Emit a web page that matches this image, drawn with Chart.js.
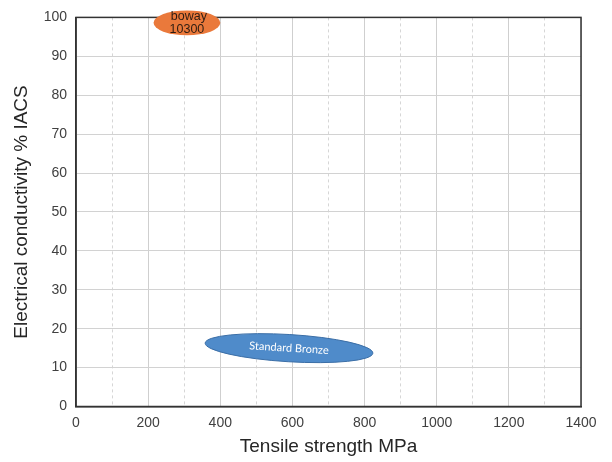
<!DOCTYPE html>
<html>
<head>
<meta charset="utf-8">
<script src="https://cdn.jsdelivr.net/npm/chart.js@4.4.0/dist/chart.umd.min.js"></script>
<style>
  html, body { margin: 0; background: #fff; }
  #wrap { width: 612px; height: 462px; }
</style>
</head>
<body>
<div id="wrap"><canvas id="chart"></canvas></div>
<script>
// material regions (MPa, % IACS)
const regionNames = [["boway", "10300"], ["Standard Bronze"]];
const strengthFrom = [215, 358];
const strengthTo = [400, 823];
const conductivityFrom = [98.6, 16.3];
const conductivityTo = [98.6, 13.7];
const conductivitySpread = [3.2, 3.5];

const strengthTicks = [0, 200, 400, 600, 800, 1000, 1200, 1400];
const conductivityTicks = [0, 10, 20, 30, 40, 50, 60, 70, 80, 90, 100];

const regionStyles = [
  { fill: "#ea793b", stroke: null, text: "#2e1d12", font: "12.5px 'Liberation Sans', Arial", lineGap: 13, dx: 2 },
  { fill: "#4f8bca", stroke: "#3b6ea6", text: "#ffffff", font: "11px Lato, 'Liberation Sans'", lineGap: 12, dx: 0 }
];

const regionPlugin = {
  id: "regions",
  afterDraw(chart) {
    const { ctx, chartArea: a, scales: { x, y } } = chart;
    ctx.save();
    // box round the plot
    ctx.strokeStyle = "#333";
    ctx.lineWidth = 1.5;
    ctx.strokeRect(a.left, a.top, a.right - a.left, a.bottom - a.top);

    regionNames.forEach((lines, i) => {
      const st = regionStyles[i];
      const x1 = x.getPixelForValue(strengthFrom[i]), x2 = x.getPixelForValue(strengthTo[i]);
      const y1 = y.getPixelForValue(conductivityFrom[i]), y2 = y.getPixelForValue(conductivityTo[i]);
      const cx = (x1 + x2) / 2, cy = (y1 + y2) / 2;
      const rx = Math.hypot(x2 - x1, y2 - y1) / 2;
      const ry = Math.abs(y.getPixelForValue(0) - y.getPixelForValue(conductivitySpread[i]));
      const rot = Math.atan2(y2 - y1, x2 - x1);

      ctx.beginPath();
      ctx.ellipse(cx, cy, rx, ry, rot, 0, Math.PI * 2);
      ctx.fillStyle = st.fill;
      ctx.fill();
      if (st.stroke) {
        ctx.strokeStyle = st.stroke;
        ctx.lineWidth = 1;
        ctx.stroke();
      }

      ctx.save();
      ctx.translate(cx, cy);
      ctx.rotate(rot);
      ctx.fillStyle = st.text;
      ctx.font = st.font;
      ctx.textAlign = "center";
      ctx.textBaseline = "middle";
      const off = (lines.length - 1) * st.lineGap / 2;
      lines.forEach((t, j) => ctx.fillText(t, j === 0 ? st.dx : 0, j * st.lineGap - off));
      ctx.restore();
    });
    ctx.restore();
  }
};

new Chart(document.getElementById("chart"), {
  type: "scatter",
  data: { datasets: [] },
  options: {
    responsive: true,
    maintainAspectRatio: false,
    animation: false,
    layout: { padding: { top: 17, right: 31, left: 0, bottom: 0 } },
    plugins: { legend: { display: false }, tooltip: { enabled: false } },
    scales: {
      x: {
        type: "linear",
        min: 0,
        max: 1400,
        afterFit: s => { s.height = 55.5; },
        afterBuildTicks: s => {
          const t = [];
          for (let v = 0; v <= 1400; v += 100) t.push({ value: v });
          s.ticks = t;
        },
        ticks: {
          autoSkip: false,
          maxRotation: 0,
          padding: 8,
          color: "#404040",
          font: { family: "'Liberation Sans', Arial", size: 14 },
          callback: v => strengthTicks.includes(v) ? String(v) : ""
        },
        grid: {
          drawTicks: false,
          color: ctx => (ctx.tick && ctx.tick.value % 200 !== 0) ? "#d6d6d6" : "#cfcfcf",
          lineWidth: 1
        },
        border: {
          color: "#333",
          width: 1.5,
          dash: ctx => (ctx.tick && ctx.tick.value % 200 !== 0) ? [3, 3] : []
        },
        title: {
          display: true,
          text: "Tensile strength MPa",
          color: "#262626",
          font: { family: "'Liberation Sans', Arial", size: 19 },
          padding: { top: 4, bottom: 4 }
        }
      },
      y: {
        type: "linear",
        min: 0,
        max: 100,
        afterFit: s => { s.width = 76; },
        afterBuildTicks: s => { s.ticks = conductivityTicks.map(v => ({ value: v })); },
        ticks: {
          padding: 9,
          color: "#404040",
          font: { family: "'Liberation Sans', Arial", size: 14 }
        },
        grid: { drawTicks: false, color: "#d2d2d2", lineWidth: 1 },
        border: { color: "#333", width: 1.5 },
        title: {
          display: true,
          text: "Electrical conductivity % IACS",
          color: "#262626",
          font: { family: "'Liberation Sans', Arial", size: 19 },
          padding: { top: 10, bottom: 0 }
        }
      }
    }
  },
  plugins: [regionPlugin]
});
</script>
</body>
</html>
